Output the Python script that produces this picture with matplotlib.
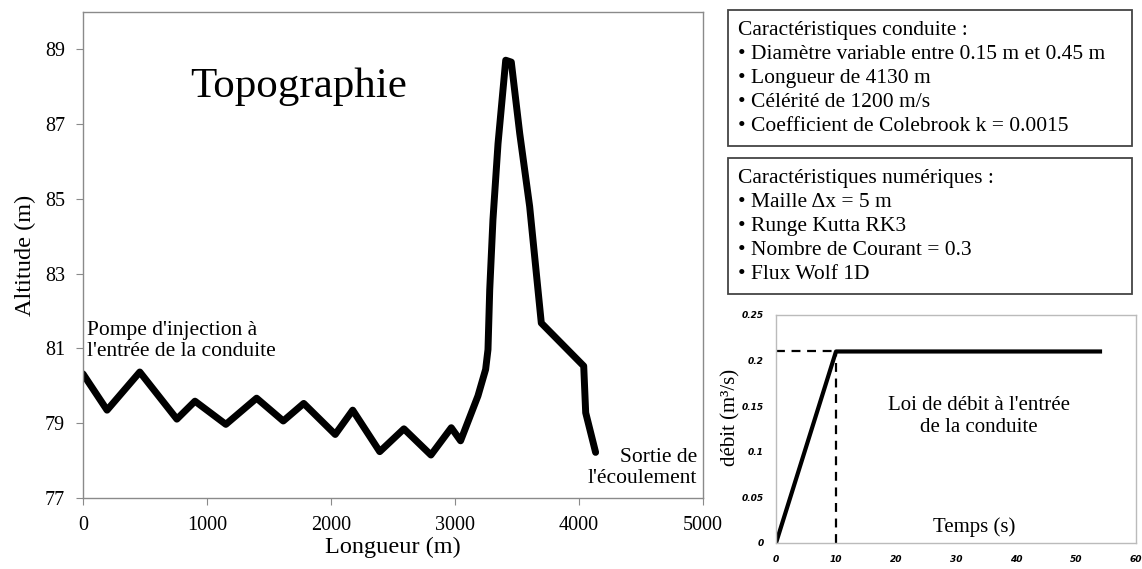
import matplotlib
matplotlib.use("Agg")
import matplotlib.pyplot as plt
from matplotlib.patches import Rectangle

plt.rcParams["font.family"] = ["Liberation Serif", "DejaVu Serif"]

# topography of the pipe
longueur = [0, 194, 458, 757, 903, 1152, 1400, 1615, 1780, 2034, 2175, 2393,
            2588, 2806, 2970, 3045, 3185, 3247, 3266, 3280, 3306, 3347, 3409,
            3454, 3522, 3602, 3696, 4038, 4054, 4134]
altitude = [80.32, 79.35, 80.37, 79.11, 79.59, 78.97, 79.67, 79.06, 79.53, 78.70,
            79.35, 78.24, 78.85, 78.15, 78.88, 78.53, 79.73, 80.44, 80.97, 82.57,
            84.44, 86.48, 88.71, 88.66, 86.75, 84.80, 81.68, 80.53, 79.28, 78.22]

# inlet discharge law
temps = [0, 10, 54]
debit = [0, 0.21, 0.21]
t_montee = 10
q_max = 0.21

x_ticks = [0, 1000, 2000, 3000, 4000, 5000]
y_ticks = [77, 79, 81, 83, 85, 87, 89]
t_ticks = [0, 10, 20, 30, 40, 50, 60]
q_ticks = [0, 0.05, 0.1, 0.15, 0.2, 0.25]
q_labels = ["0", "0.05", "0.1", "0.15", "0.2", "0.25"]

box_conduite = [
    "Caractéristiques conduite :",
    "• Diamètre variable entre 0.15 m et 0.45 m",
    "• Longueur de 4130 m",
    "• Célérité de 1200 m/s",
    "• Coefficient de Colebrook k = 0.0015",
]
box_numerique = [
    "Caractéristiques numériques :",
    "• Maille Δx = 5 m",
    "• Runge Kutta RK3",
    "• Nombre de Courant = 0.3",
    "• Flux Wolf 1D",
]

W, H = 1142, 569
fig = plt.figure(figsize=(W / 100, H / 100), dpi=100)
grey = "#8a8a8a"

# ---- main topography plot ----
ax = fig.add_axes([83 / W, 1 - 498 / H, 620 / W, 486 / H])
ax.plot(longueur, altitude, color="black", lw=5, solid_joinstyle="round",
        solid_capstyle="round")
ax.set_xlim(0, 5000)
ax.set_ylim(77, 90)
ax.set_xticks(x_ticks)
ax.set_yticks(y_ticks)
for s in ax.spines.values():
    s.set_color(grey)
    s.set_linewidth(1.0)
ax.tick_params(direction="out", length=5, color=grey, labelsize=14.5, pad=8)
ax.set_xlabel("Longueur (m)", fontsize=17.5, labelpad=1)
ax.set_ylabel("Altitude (m)", fontsize=17.5, labelpad=6)
ax.text(1740, 88.0, "Topographie", fontsize=31, ha="center", va="center")
ax.text(30, 81.2, "Pompe d'injection à\nl'entrée de la conduite", fontsize=15.5,
        ha="left", va="center", linespacing=1.15)
ax.text(4950, 77.8, "Sortie de\nl'écoulement", fontsize=15.5,
        ha="right", va="center", linespacing=1.15)

# ---- text boxes ----
for lines, (y0, y1) in [(box_conduite, (10, 146)), (box_numerique, (158, 294))]:
    fig.patches.append(Rectangle((728 / W, 1 - y1 / H), 404 / W, (y1 - y0) / H,
                                 transform=fig.transFigure, fill=False,
                                 edgecolor="#444444", lw=1.3))
    fig.text(738 / W, 1 - (y0 + 11) / H, "\n".join(lines), fontsize=15.5,
             ha="left", va="top", linespacing=1.36)

# ---- inlet discharge inset ----
ax2 = fig.add_axes([776 / W, 1 - 543 / H, 360 / W, 228 / H])
ax2.plot(temps, debit, color="black", lw=3)
ax2.plot([0, t_montee], [q_max, q_max], color="black", lw=1.6, ls=(0, (4, 3)))
ax2.plot([t_montee, t_montee], [0, q_max], color="black", lw=1.6, ls=(0, (4, 3)))
ax2.set_xlim(0, 60)
ax2.set_ylim(0, 0.25)
ax2.set_xticks(t_ticks)
ax2.set_yticks(q_ticks)
ax2.set_yticklabels(q_labels)
for s in ax2.spines.values():
    s.set_color("#bbbbbb")
    s.set_linewidth(1.0)
ax2.tick_params(length=0, pad=9, labelsize=6.5)
for lab in ax2.get_xticklabels() + ax2.get_yticklabels():
    lab.set_family(["DejaVu Sans"])
    lab.set_fontweight("bold")
    lab.set_fontstyle("italic")
ax2.set_ylabel("débit (m³/s)", fontsize=15)
ax2.yaxis.set_label_coords(-0.10, 0.55)
ax2.text(33.8, 0.139, "Loi de débit à l'entrée\nde la conduite", fontsize=15,
         ha="center", va="center", linespacing=1.2)
ax2.text(33, 0.017, "Temps (s)", fontsize=15, ha="center", va="center")

fig.savefig("out.png", dpi=100)
